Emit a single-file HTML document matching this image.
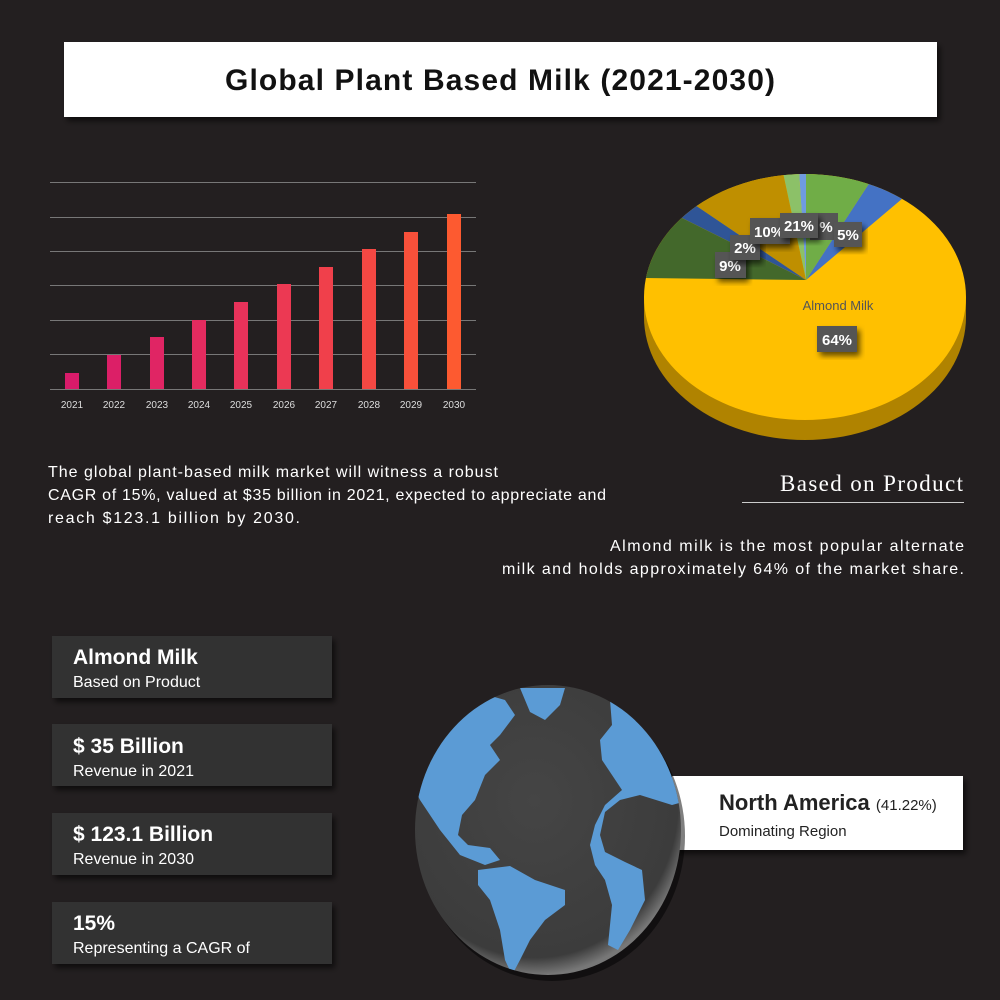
<!DOCTYPE html>
<html><head><meta charset="utf-8"><style>
html,body{margin:0;padding:0;background:#231f20;}
svg{display:block;font-family:"Liberation Sans",sans-serif;}
</style></head><body>
<svg width="1000" height="1000" viewBox="0 0 1000 1000" xmlns="http://www.w3.org/2000/svg">
<defs>
<clipPath id="pc"><ellipse cx="805" cy="297" rx="161" ry="123"/></clipPath>
<clipPath id="gc"><ellipse cx="548" cy="830" rx="133" ry="145"/></clipPath>
<filter id="sh" x="-10%" y="-10%" width="130%" height="140%"><feDropShadow dx="3" dy="4" stdDeviation="3" flood-color="#000" flood-opacity="0.6"/></filter>
<radialGradient id="gg" cx="0.45" cy="0.4" r="0.6"><stop offset="0" stop-color="#454545"/><stop offset="0.9" stop-color="#3c3c3c"/><stop offset="1" stop-color="#777"/></radialGradient>
</defs>
<rect width="1000" height="1000" fill="#231f20"/>
<rect x="64" y="42" width="873" height="75" fill="#fff" filter="url(#sh)"/>
<text x="500" y="90" text-anchor="middle" font-size="30" font-weight="bold" fill="#111" textLength="550">Global Plant Based Milk  (2021-2030)</text>
<g stroke="#777" stroke-width="1">
<line x1="50" x2="476" y1="182.5" y2="182.5"/><line x1="50" x2="476" y1="217.5" y2="217.5"/>
<line x1="50" x2="476" y1="251.5" y2="251.5"/><line x1="50" x2="476" y1="285.5" y2="285.5"/>
<line x1="50" x2="476" y1="320.5" y2="320.5"/><line x1="50" x2="476" y1="354.5" y2="354.5"/>
<line x1="50" x2="476" y1="389.5" y2="389.5"/>
</g>
<g>
<rect x="65" y="373" width="14" height="16" fill="#d81b6a"/>
<rect x="107" y="355" width="14" height="34" fill="#dc1f67"/>
<rect x="150" y="337" width="14" height="52" fill="#e02564"/>
<rect x="192" y="320" width="14" height="69" fill="#e42b5f"/>
<rect x="234" y="302" width="14" height="87" fill="#e8325a"/>
<rect x="277" y="284" width="14" height="105" fill="#ec3953"/>
<rect x="319" y="267" width="14" height="122" fill="#f0404b"/>
<rect x="362" y="249" width="14" height="140" fill="#f44843"/>
<rect x="404" y="232" width="14" height="157" fill="#f8503a"/>
<rect x="447" y="214" width="14" height="175" fill="#fd5a30"/>
</g>
<g font-size="10" fill="#ddd" text-anchor="middle">
<text x="72" y="408">2021</text><text x="114" y="408">2022</text><text x="157" y="408">2023</text>
<text x="199" y="408">2024</text><text x="241" y="408">2025</text><text x="284" y="408">2026</text>
<text x="326" y="408">2027</text><text x="369" y="408">2028</text><text x="411" y="408">2029</text>
<text x="454" y="408">2030</text>
</g>
<ellipse cx="805" cy="317" rx="161" ry="123" fill="#b08300"/>
<rect x="644" y="297" width="322" height="20" fill="#b08300"/>
<ellipse cx="805" cy="297" rx="161" ry="123" fill="#ffc000"/>
<g clip-path="url(#pc)">
<polygon points="806,280 903,198 920,150 870,150 870,182" fill="#4472c4"/>
<polygon points="806,280 870,182 880,140 806,140" fill="#70ad47"/>
<polygon points="806,280 806,140 797,140" fill="#6f9be0"/>
<polygon points="806,280 797,140 776,140" fill="#8cc168"/>
<polygon points="806,280 776,140 660,150 695,205" fill="#bf8f00"/>
<polygon points="806,280 695,205 640,200 680,217" fill="#2f5597"/>
<polygon points="806,280 680,217 600,210 600,275 645,278" fill="#43682b"/>
</g>
<g font-size="15" font-weight="bold" fill="#fff" text-anchor="middle">
<rect x="817" y="326" width="40" height="26" fill="#555" filter="url(#sh)"/><text x="837" y="345">64%</text>
<rect x="810" y="213" width="28" height="27" fill="#555"/><text x="826" y="232">%</text>
<rect x="834" y="222" width="28" height="25" fill="#555" filter="url(#sh)"/><text x="848" y="240">5%</text>
<rect x="715" y="252" width="31" height="26" fill="#555" filter="url(#sh)"/><text x="730" y="271">9%</text>
<rect x="730" y="235" width="30" height="25" fill="#555" filter="url(#sh)"/><text x="745" y="253">2%</text>
<rect x="750" y="218" width="40" height="26" fill="#555" filter="url(#sh)"/><text x="769" y="237">10%</text>
<rect x="780" y="213" width="38" height="25" fill="#555" filter="url(#sh)"/><text x="799" y="231">21%</text>
</g>
<text x="838" y="310" text-anchor="middle" font-size="13" fill="#555">Almond Milk</text>
<g font-size="16" fill="#fff">
<text x="48" y="477" textLength="450">The global plant-based milk market will witness a robust</text>
<text x="48" y="500" textLength="558">CAGR of 15%, valued at $35 billion in 2021, expected to appreciate and</text>
<text x="48" y="523" textLength="252">reach $123.1 billion by 2030.</text>
<text x="964" y="551" text-anchor="end" textLength="354">Almond milk is the most popular alternate</text>
<text x="964" y="574" text-anchor="end" textLength="462">milk and holds approximately 64% of the market share.</text>
</g>
<text x="963" y="491" text-anchor="end" font-family="Liberation Serif,serif" font-size="23" fill="#fff" textLength="183">Based on Product</text>
<line x1="742" x2="964" y1="502.5" y2="502.5" stroke="#ccc" stroke-width="1"/>
<g filter="url(#sh)" fill="#333132">
<rect x="52" y="636" width="280" height="62"/><rect x="52" y="724" width="280" height="62"/>
<rect x="52" y="813" width="280" height="62"/><rect x="52" y="902" width="280" height="62"/>
</g>
<g fill="#fff">
<text x="73" y="664" font-size="21" font-weight="bold">Almond Milk</text>
<text x="73" y="687" font-size="16">Based on Product</text>
<text x="73" y="753" font-size="21" font-weight="bold">$ 35 Billion</text>
<text x="73" y="776" font-size="16">Revenue in 2021</text>
<text x="73" y="841" font-size="21" font-weight="bold">$ 123.1 Billion</text>
<text x="73" y="864" font-size="16">Revenue in 2030</text>
<text x="73" y="930" font-size="21" font-weight="bold">15%</text>
<text x="73" y="953" font-size="16">Representing a CAGR of</text>
</g>
<rect x="672" y="776" width="291" height="74" fill="#fff" filter="url(#sh)"/>
<text x="719" y="810" font-size="22" font-weight="bold" fill="#222">North America <tspan font-size="15" font-weight="normal">(41.22%)</tspan></text>
<text x="719" y="836" font-size="15" fill="#222">Dominating Region</text>
<ellipse cx="552" cy="836" rx="133" ry="145" fill="#000" opacity="0.5"/>
<ellipse cx="548" cy="830" rx="133" ry="145" fill="url(#gg)"/>
<g clip-path="url(#gc)" fill="#5b9bd5">
<polygon points="400,700 470,690 505,700 515,715 500,735 490,745 500,760 485,775 475,800 462,815 458,835 468,845 490,848 500,860 485,865 460,855 440,830 420,800 400,760"/>
<polygon points="520,688 565,688 560,705 545,720 530,712"/>
<polygon points="478,870 510,866 535,880 565,890 565,905 545,920 530,940 520,960 512,975 505,960 500,930 490,900 478,885"/>
<polygon points="610,700 650,712 680,750 690,800 672,805 640,795 620,800 605,812 600,835 605,852 625,862 642,870 645,900 630,930 618,950 608,945 612,905 605,880 595,865 590,845 595,825 605,805 622,790 612,775 602,760 600,740 612,725"/>
</g>
</svg>
</body></html>
